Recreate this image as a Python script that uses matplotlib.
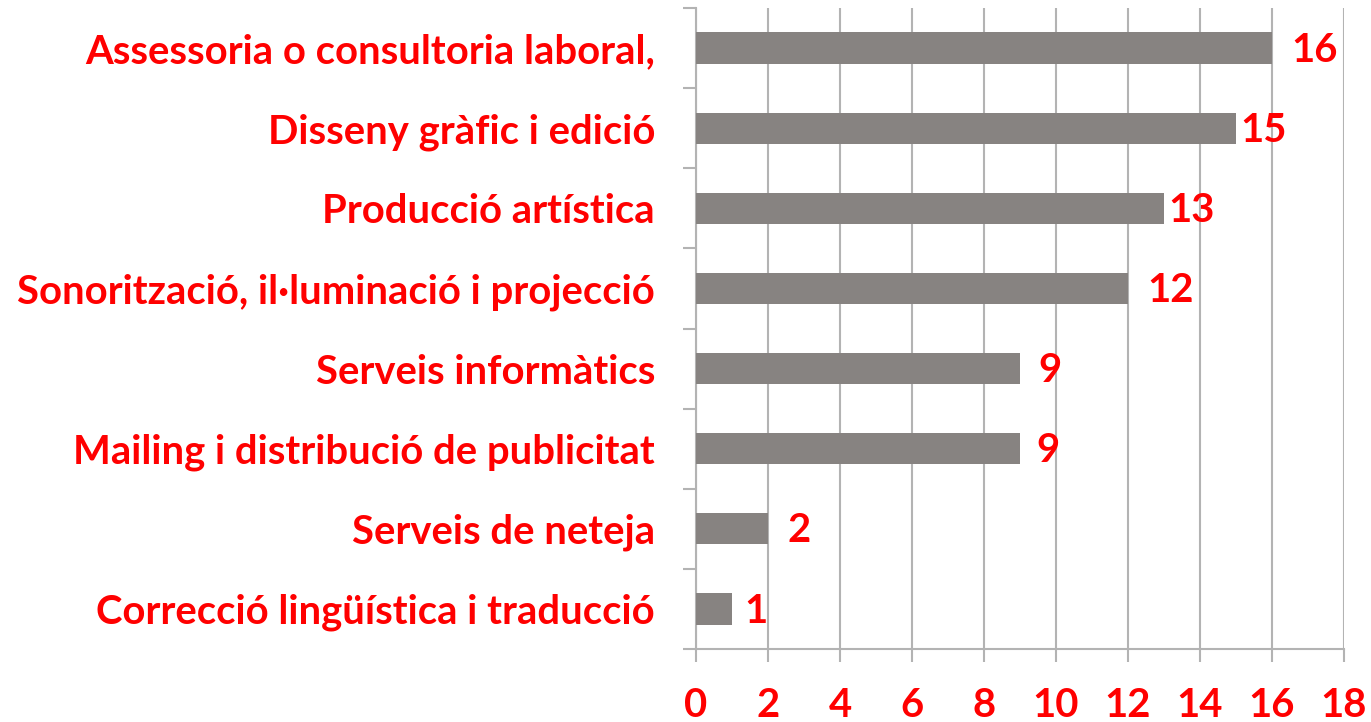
import matplotlib.pyplot as plt
from matplotlib.ticker import FixedLocator, MultipleLocator

categories = [
    "Correcció lingüística i traducció",
    "Serveis de neteja",
    "Mailing i distribució de publicitat",
    "Serveis informàtics",
    "Sonorització, il·luminació i projecció",
    "Producció artística",
    "Disseny gràfic i edició",
    "Assessoria o consultoria laboral,",
]
values = [1, 2, 9, 9, 12, 13, 15, 16]
# label offsets (points), as placed in the original
label_offsets = [9, 14, 12, 13, 14, 3, 3, 14]

RED = "#ff0000"
GREY = "#b3b3b3"
BAR = "#878381"
FONT = "Lato"
SIZE = 28.8

fig = plt.figure(figsize=(13.71, 7.22), dpi=100)
ax = fig.add_axes([0.5077, 0.1011, 0.4726, 0.8878])

pos = list(range(len(categories)))
ax.barh(pos, values, height=0.39, color=BAR, zorder=3)

for p, v, off in zip(pos, values, label_offsets):
    ax.annotate(str(v), (v, p), xytext=(off, -1.5), textcoords="offset points",
                va="center", ha="left", color=RED, fontsize=SIZE,
                fontweight="bold", family=FONT)

ax.set_xlim(0, 18)
ax.set_ylim(-0.5, len(categories) - 0.5)
ax.xaxis.set_major_locator(MultipleLocator(2))
ax.grid(axis="x", color=GREY, linewidth=1.5, zorder=0)

# category ticks between bars, labels at bar centres
ax.yaxis.set_major_locator(FixedLocator([p - 0.5 for p in range(len(categories) + 1)]))
ax.yaxis.set_major_formatter(plt.NullFormatter())
ax.yaxis.set_minor_locator(FixedLocator(pos))
ax.set_yticklabels(categories, minor=True)
ax.tick_params(axis="y", which="major", length=9.5, width=1.5, color=GREY)
ax.tick_params(axis="y", which="minor", length=0, pad=29.5)
ax.tick_params(axis="x", length=9.5, width=1.5, color=GREY, pad=18)

for lab in ax.get_yticklabels(minor=True) + ax.get_xticklabels():
    lab.set_color(RED)
    lab.set_fontsize(SIZE)
    lab.set_fontweight("bold")
    lab.set_family(FONT)

for side in ["top", "right"]:
    ax.spines[side].set_visible(False)
for side in ["left", "bottom"]:
    ax.spines[side].set_color(GREY)
    ax.spines[side].set_linewidth(1.5)

fig.savefig("out.png", dpi=100)
